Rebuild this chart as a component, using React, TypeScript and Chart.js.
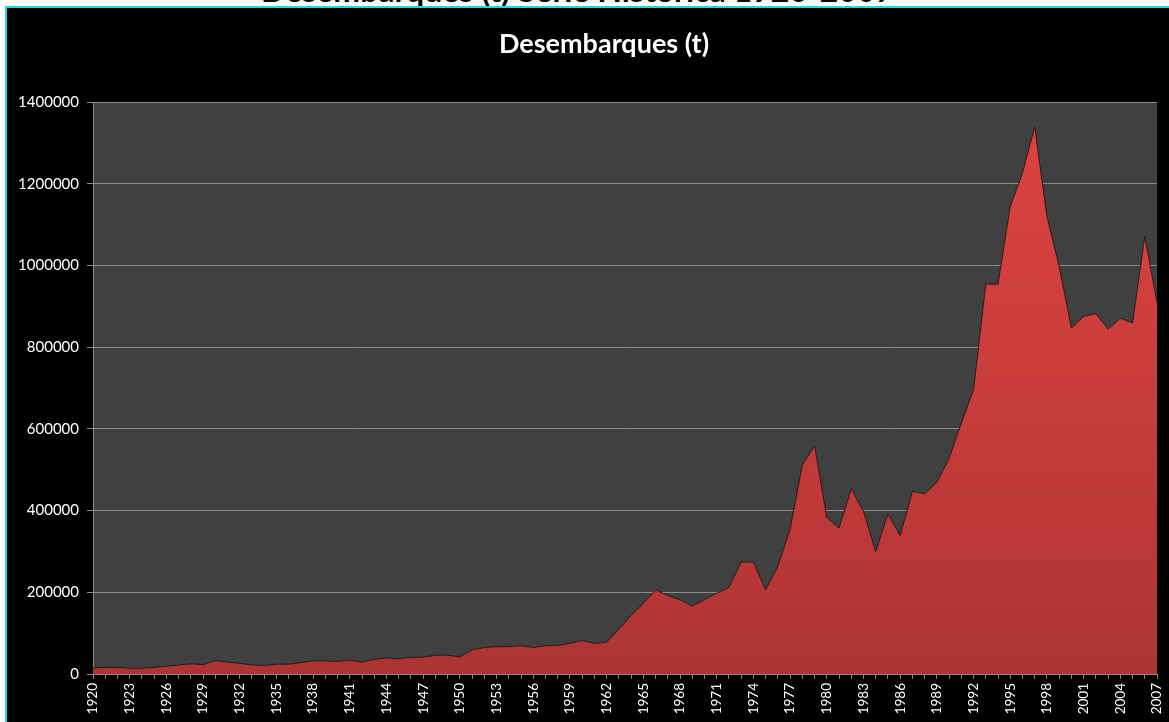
import React, { useEffect, useRef } from 'react';
import { Chart, registerables } from 'chart.js';

Chart.register(...registerables);

const FIRST_YEAR = 1920;

const LANDINGS: number[] = [
  15000, 16000, 16000, 14000, 14000, 16000, 19000, 22000, 25000, 23000, // 1920-1929
  33000, 29000, 26000, 22000, 21000, 24000, 24000, 28000, 32000, 32000, // 1930-1939
  31000, 34000, 29000, 36000, 39000, 37000, 41000, 41000, 46000, 46000, // 1940-1949
  42000, 59000, 65000, 67000, 67000, 69000, 65000, 69000, 70000, 75000, // 1950-1959
  82000, 75000, 78000, 110000, 143000, 173000, 206000, 192000, 182000, 166000, // 1960-1969
  182000, 198000, 212000, 274000, 274000, 206000, 263000, 355000, 511000, 559000, // 1970-1979
  383000, 357000, 453000, 398000, 300000, 392000, 339000, 447000, 441000, 469000, // 1980-1989
  528000, 614000, 696000, 954000, 954000, 1144000, 1226000, 1339000, 1120000, 998000, // 1990-1999
  847000, 875000, 882000, 844000, 871000, 859000, 1071000, 910000, // 2000-2007
];

const YEARS: string[] = LANDINGS.map((_, i) => String(FIRST_YEAR + i));

const Y_MIN = 0;
const Y_MAX = 1400000;
const Y_STEP = 200000;
const LABEL_EVERY = 3;

const CHART_TITLE = 'Desembarques (t)';
const PAGE_TITLE = 'Desembarques (t) Série Histórica 1920-2007';

const CANVAS_W = 1194;
const CANVAS_H = 714;

export default function App() {
  const ref = useRef<HTMLCanvasElement>(null);

  useEffect(() => {
    if (!ref.current) return;
    const plotBg = {
      id: 'plotBg',
      beforeDraw(chart: any) {
        const { ctx, chartArea } = chart;
        if (!chartArea) return;
        ctx.save();
        ctx.fillStyle = '#404040';
        ctx.fillRect(chartArea.left, chartArea.top, chartArea.right - chartArea.left, chartArea.bottom - chartArea.top);
        ctx.restore();
      },
    };
    const titleDraw = {
      id: 'titleDraw',
      afterDraw(chart: any) {
        const { ctx } = chart;
        ctx.save();
        ctx.fillStyle = '#ffffff';
        ctx.font = 'bold 27px Lato';
        ctx.textAlign = 'center';
        ctx.textBaseline = 'middle';
        ctx.fillText(CHART_TITLE, chart.width / 2, 36);
        ctx.restore();
      },
    };

    const chart = new Chart(ref.current, {
      type: 'line',
      data: {
        labels: YEARS,
        datasets: [
          {
            data: LANDINGS,
            fill: 'origin',
            backgroundColor: (c: any) => {
              const a = c.chart.chartArea;
              if (!a) return '#c03a3a';
              const g = c.chart.ctx.createLinearGradient(0, a.top, 0, a.bottom);
              g.addColorStop(0, '#dc4340');
              g.addColorStop(0.5, '#c83d3b');
              g.addColorStop(1, '#ad3434');
              return g;
            },
            borderColor: 'rgba(45,12,12,0.85)',
            borderWidth: 1,
            pointRadius: 0,
            tension: 0,
          },
        ],
      },
      options: {
        animation: false,
        responsive: false,
        maintainAspectRatio: false,
        layout: { padding: { left: 0, right: CANVAS_W - 1150, top: 94, bottom: 0 } },
        plugins: {
          legend: { display: false },
          tooltip: { enabled: false },
          title: { display: false },
        },
        scales: {
          x: {
            type: 'category',
            offset: false,
            grid: { drawOnChartArea: false, drawTicks: true, tickLength: 5, color: '#8a8a8a' },
            border: { color: '#8a8a8a', width: 1 },
            ticks: {
              autoSkip: false,
              maxRotation: 90,
              minRotation: 90,
              color: '#ffffff',
              font: { family: 'Lato', size: 13.5 },
              padding: 4,
              callback: (_v: any, i: number) => (i % LABEL_EVERY === 0 ? YEARS[i] : ''),
            },
            afterFit: (s: any) => {
              s.height = 48;
            },
          },
          y: {
            min: Y_MIN,
            max: Y_MAX,
            ticks: {
              stepSize: Y_STEP,
              color: '#ffffff',
              font: { family: 'Lato', size: 15 },
              padding: 8,
              callback: (v: any) => String(v),
            },
            grid: { color: '#8c8c8c', tickLength: 6 },
            border: { color: '#8a8a8a', width: 1 },
            afterFit: (s: any) => {
              s.width = 86;
            },
          },
        },
      },
      plugins: [plotBg, titleDraw],
    } as any);

    return () => chart.destroy();
  }, []);

  return (
    <div
      style={{
        position: 'absolute',
        left: 0,
        top: 0,
        width: 1169,
        height: 722,
        overflow: 'hidden',
        background: '#ffffff',
      }}
    >
      <div
        style={{
          position: 'absolute',
          left: 261,
          top: -25,
          fontFamily: 'Lato',
          fontWeight: 'bold',
          fontSize: 32,
          lineHeight: '30px',
          color: '#000',
          whiteSpace: 'nowrap',
        }}
      >
        {PAGE_TITLE}
      </div>
      <div
        style={{
          position: 'absolute',
          left: 5,
          top: 6,
          width: CANVAS_W,
          height: CANVAS_H,
          borderTop: '2px solid #19dadc',
          borderLeft: '2px solid #19dadc',
          background: '#000',
          zIndex: 1,
        }}
      >
        <canvas ref={ref} width={CANVAS_W} height={CANVAS_H} style={{ display: 'block' }} />
      </div>
    </div>
  );
}
